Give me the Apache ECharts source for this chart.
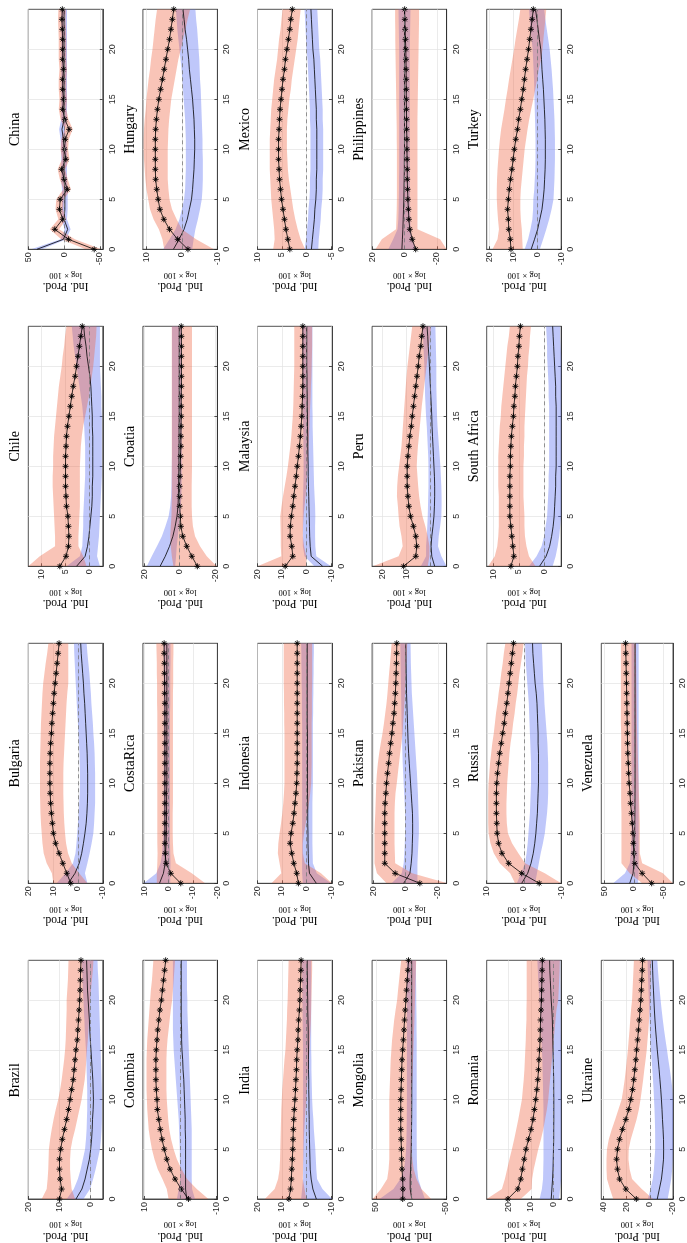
<!DOCTYPE html>
<html><head><meta charset="utf-8">
<script src="https://cdn.jsdelivr.net/npm/echarts@6/dist/echarts.min.js"></script>
<style>html,body{margin:0;padding:0;background:#fff}#c{width:687px;height:1243px}</style>
</head><body><div id="c"></div>
<script>
const countries = ['Brazil','Bulgaria','Chile','China','Colombia','CostaRica','Croatia','Hungary','India','Indonesia','Malaysia','Mexico','Mongolia','Pakistan','Peru','Philippines','Romania','Russia','South Africa','Turkey','Ukraine','Venezuela'];
const horizons = [0,1,2,3,4,5,6,7,8,9,10,11,12,13,14,15,16,17,18,19,20,21,22,23,24];
const horizonTicks = [0,5,10,15,20];
const valueMin = [-3.9,-10,-2.8,-54,-10.2,-20,-21.3,-10,-10.4,-10.4,-10.4,-5.2,-51,-25.5,-6.9,-26,-3.3,-10,-3.4,-10,-20,-66];
const valueMax = [20,20,12.8,50,10.4,10.5,20.7,11,20,20,20,10,55.6,21,24.3,20,29.5,10,11.4,21,42,55];
const valueTicks = [[0,10,20],[-10,0,10,20],[0,5,10],[-50,0,50],[-10,0,10],[-20,-10,0,10],[-20,0,20],[-10,0,10],[-10,0,10,20],[-10,0,10,20],[-10,0,10,20],[-5,0,5,10],[-50,0,50],[-20,0,20],[0,10,20],[-20,0,20],[0,10,20],[-10,0,10],[0,5,10],[-10,0,10,20],[-20,0,20,40],[-50,0,50]];

const redMedian = [
[10,9.3,9.8,10,10,9.6,9.1,8.4,7.7,7.1,6.6,6.1,5.6,5.3,5.0,4.7,4.3,4.1,3.9,3.7,3.5,3.4,3.3,3.2,3.1],
[2.9,4.5,6.1,7.6,9.0,9.9,10.3,10.7,11.0,11.2,11.3,11.3,11.3,11.2,11.0,10.7,10.5,10.2,9.9,9.6,9.2,8.8,8.4,8.0,7.6],
[6.2,4.9,4.4,4.3,4.4,4.5,4.8,4.9,5.0,5.0,5.0,5.0,4.9,4.8,4.6,4.3,4.0,3.7,3.4,3.0,2.7,2.4,2.1,1.8,1.5],
[-42,-6,13,2,6.5,5.5,-4.5,0,3.5,-2.5,-0.5,-1.5,-7,-1,2,1,2,2,1,2,2,2,2.5,3,2.5],
[-2.2,-0.2,1.5,2.9,3.8,4.5,5.1,5.6,6.0,6.4,6.5,6.7,6.8,6.8,6.8,6.7,6.5,6.3,6.0,5.7,5.3,5.0,4.7,4.4,4.1],
[-5,-0.9,1,1.4,1.5,1.5,1.5,1.5,1.5,1.5,1.5,1.5,1.5,1.5,1.5,1.5,1.5,1.5,1.5,1.6,1.6,1.7,1.7,1.8,1.8],
[-10,-6.9,-4,-1.8,-0.7,-0.4,0,0,0,-0.2,-0.4,-0.5,-0.7,-0.7,-0.8,-0.9,-0.9,-0.9,-1.0,-1.0,-1.0,-1.0,-1.0,-1.0,-0.9],
[-1.7,1.2,3.5,5.1,6.2,6.7,7.1,7.4,7.5,7.5,7.5,7.5,7.4,7.2,6.9,6.5,6.0,5.5,5.0,4.5,4.0,3.5,3.1,2.7,2.3],
[7.2,6.5,6.2,6.0,5.8,5.6,5.5,5.4,5.2,5.0,4.7,4.5,4.3,4.1,4.0,3.8,3.5,3.4,3.2,2.9,2.7,2.6,2.4,2.3,2.2],
[3.3,4.0,5.2,6.0,6.7,6.3,5.6,5.1,4.7,4.3,4.0,3.9,3.8,3.8,3.8,3.8,3.8,3.8,3.8,3.8,3.8,3.8,3.8,3.8,3.8],
[8.7,5.6,6.0,6.7,6.6,6.2,5.6,5.2,4.7,4.2,3.8,3.3,2.9,2.5,2.2,1.9,1.8,1.6,1.5,1.5,1.5,1.5,1.5,1.5,1.5],
[3.4,3.8,4.2,4.5,4.8,5.1,5.3,5.5,5.6,5.7,5.7,5.7,5.6,5.5,5.4,5.2,5.0,4.8,4.5,4.3,4.0,3.7,3.4,3.2,2.9],
[11.8,11.5,11.8,12.8,13.2,13.7,14.1,14.6,14.6,14.6,14.6,14.1,13.7,13.2,12.8,11.8,10.9,10.0,9.2,8.2,7.2,6.3,5.4,4.4,3.5],
[-8.8,6.6,13.1,13.1,13.1,13.1,13.1,13.1,12.9,12.4,12.0,11.4,10.7,10.1,9.4,8.6,8.0,7.3,6.9,6.5,6.2,6.0,5.8,5.7,5.6],
[11.1,6.0,5.6,6.0,7.0,8.2,8.9,9.3,9.6,9.6,9.6,9.3,8.9,8.5,7.9,7.5,7.0,6.5,6.0,5.5,5.0,4.6,3.9,3.5,3.0],
[-6.9,-4.8,-3.3,-2.7,-2.4,-2.1,-1.9,-1.7,-1.7,-1.6,-1.5,-1.5,-1.3,-1.3,-1.2,-1.1,-1.1,-1.0,-1.0,-0.9,-0.8,-0.6,-0.4,-0.2,-0.1],
[20.2,15.8,14.5,13.8,13.0,12.2,11.1,10.0,9.1,8.5,7.9,7.4,7.0,6.7,6.5,6.2,6.0,5.9,5.8,5.6,5.4,5.3,5.2,5.1,5.0],
[-4.1,0.6,4.1,5.9,6.8,7.2,7.3,7.4,7.4,7.4,7.3,7.1,6.8,6.5,6.1,5.7,5.3,5.0,4.6,4.3,4.0,3.7,3.4,3.1,2.8],
[6.6,6.0,6.2,6.4,6.6,6.8,6.8,6.8,6.8,6.8,6.7,6.7,6.6,6.5,6.3,6.1,6.0,5.8,5.7,5.5,5.3,5.2,5.0,4.9,4.7],
[10.9,11.2,11.8,12.0,12.3,12.0,11.6,11.1,10.5,10.0,9.5,8.9,8.2,7.7,7.0,6.4,5.8,5.3,4.8,4.2,3.6,3.1,2.6,2.1,1.6],
[11.7,20.8,26.2,28.0,28.8,28.0,26.2,23.7,20.8,18.3,16.5,15.0,13.9,13.0,12.1,11.4,10.6,9.9,9.2,8.5,7.8,7.4,7.0,6.6,6.3],
[-30,-14,-1.4,0,1.0,1.5,2.8,4,5.6,6.5,8,8.8,9.5,10.2,10.7,11,11.3,11.6,11.9,12.2,12.5,12.9,13.2,13.6,14]
];
const redUpper = [
[15.7,14.1,13.8,13.6,13.5,13.4,13.0,12.5,11.9,11.2,10.4,9.8,9.3,8.9,8.5,8.2,8.0,7.9,7.8,7.7,7.7,7.5,7.3,7.2,7.1],
[9.9,10.5,12.6,13.8,14.3,14.6,14.9,15.1,15.2,15.3,15.3,15.3,15.3,15.2,15.1,15.0,14.9,14.7,14.5,14.3,14.0,13.5,13.0,12.4,11.9],
[12.8,10.4,7.2,7.2,7.3,7.4,7.5,7.6,7.7,7.7,7.6,7.6,7.5,7.4,7.2,7.0,6.8,6.6,6.4,6.1,5.8,5.6,5.3,5.1,4.8],
[-30,4,20,8,12,11,1,6,9,3,5,4,-1,5,7.5,6.5,7.5,7.5,6.5,7.5,7.5,7.5,8,8.5,8],
[3.3,3.8,5.0,6.3,7.2,7.9,8.4,8.8,9.0,9.2,9.3,9.4,9.4,9.4,9.4,9.3,9.2,9.0,8.8,8.6,8.4,8.2,7.9,7.7,7.5],
[4.8,4.8,4.6,4.5,4.6,4.6,4.6,4.6,4.6,4.6,4.6,4.6,4.6,4.6,4.6,4.6,4.6,4.6,4.7,4.7,4.7,4.8,4.8,4.9,5.0],
[3.5,4.4,5.0,5.3,5.0,4.6,4.5,4.4,4.4,4.4,4.4,4.4,4.4,4.4,4.4,4.4,4.4,4.4,4.4,4.4,4.4,4.4,4.4,4.4,4.4],
[5,5.5,6.5,8,9,9.5,10,10.3,10.5,10.7,10.8,10.8,10.7,10.5,10.2,10,9.7,9.4,9,8.7,8.3,8,7.7,7.4,7],
[17,13,11.6,11,10.8,10.7,10.6,10.5,10.4,10.3,10.1,9.9,9.6,9.3,9.0,8.6,8.4,8.2,8.0,7.9,7.7,7.6,7.5,7.4,7.3],
[14.3,10.3,11.0,11.7,11.5,11.0,10.4,9.9,9.5,9.2,9.0,9.0,9.0,9.0,9.0,9.0,9.1,9.1,9.2,9.2,9.3,9.3,9.3,9.3,9.3],
[20,10.3,10.5,10.5,10.6,10.7,10.2,9.6,8.9,8.2,7.6,7.1,6.6,6.2,5.9,5.6,5.4,5.3,5.2,5.1,5.0,5.0,5.0,5.0,5.0],
[6.8,6.5,6.6,6.8,7.0,7.2,7.3,7.4,7.5,7.5,7.5,7.5,7.4,7.3,7.2,7.0,6.8,6.6,6.3,6.0,5.8,5.6,5.3,5.1,4.9],
[54.7,43,34,32,31,31,31,31,31,31,31,30.5,30,29.5,29,28,27,25.5,24,22,19.8,18.5,17,15.5,14],
[12,18,19.5,19.5,19.5,19.5,19.3,19.0,18.8,18.6,18.4,18.0,17.4,16.6,15.6,14.5,13.6,12.8,12.0,11.4,10.9,10.4,9.8,9.3,8.8],
[24,13.2,11.5,12,12.8,13.2,13.5,13.9,13.8,13.5,13.0,12.5,12.0,11.7,11.4,11.1,10.8,10.5,10.2,9.9,9.5,9.0,8.5,8.0,7.5],
[17.9,14,5.2,5.0,4.8,4.7,4.7,4.7,4.7,4.7,4.7,4.8,4.8,4.9,5.0,5.1,5.2,5.3,5.4,5.5,5.6,5.7,5.7,5.8,5.8],
[29.5,22.8,21.5,20.5,19.5,18.4,17.4,16.5,15.6,14.8,14.0,13.6,13.2,12.9,12.7,12.5,12.3,12.2,12.0,12.0,11.9,11.9,11.9,11.9,11.9],
[2.4,3.7,6.5,8.1,9.0,9.5,9.6,9.6,9.6,9.6,9.5,9.3,9.1,8.8,8.5,8.1,7.8,7.5,7.1,6.8,6.4,6.1,5.7,5.4,5.0],
[11.1,9.8,9.3,9.1,9.0,9.0,9.0,9.0,9.1,9.1,9.1,9.1,9.0,8.9,8.8,8.6,8.5,8.3,8.1,7.9,7.7,7.5,7.3,7.0,6.8],
[18.6,16.5,15.9,16.3,16.6,16.8,16.8,16.7,16.5,16.2,15.9,15.5,15.0,14.3,13.6,13.0,12.3,11.7,11.0,10.3,9.6,9.0,8.3,7.6,7.0],
[31.7,34.5,37.1,37.5,37.5,37.1,35.5,33.0,30.0,27.2,24.4,23.0,21.8,20.8,19.9,19.0,18.3,17.6,17.0,16.3,15.4,15.0,14.6,14.2,13.8],
[-14,7,21,21,21,21,21,21,21.5,21.5,21.5,21.5,21.5,21.5,21.5,21.5,22,22,22,22,22,22,22,22,22]
];
const redLower = [
[5.0,6.1,6.4,6.6,6.6,6.4,5.8,5.0,4.3,3.6,2.9,2.4,1.9,1.6,1.4,1.2,0.9,0.7,0.5,0.3,0.2,-0.1,-0.4,-0.7,-0.9],
[-3.8,-0.5,2.5,4.0,4.8,5.2,5.5,5.7,5.8,5.9,5.9,5.9,5.8,5.6,5.4,5.2,5.0,4.8,4.6,4.3,3.9,3.9,3.9,3.9,3.9],
[0.6,1.3,2.3,2.3,2.2,2.1,2.0,2.0,2.0,2.0,2.0,1.9,1.8,1.6,1.3,0.9,0.5,0.1,-0.2,-0.5,-0.8,-1.0,-1.2,-1.4,-1.5],
[-52,-15,7,-3,1.5,0.5,-9.5,-5,-1.5,-7.5,-5.5,-6.5,-12,-6,-3,-4,-3,-3,-4,-3,-3,-3,-2.5,-2,-2.5],
[-7.7,-4.5,-1.8,-0.3,1.0,1.9,2.6,3.1,3.4,3.6,3.8,3.9,3.9,3.9,3.9,3.8,3.6,3.3,3.0,2.7,2.3,2.1,1.9,1.7,1.5],
[-15,-9.5,-3,-2,-1.8,-1.7,-1.7,-1.7,-1.8,-1.8,-1.8,-1.8,-1.8,-1.8,-1.8,-1.8,-1.8,-1.8,-1.8,-1.8,-1.9,-1.9,-1.9,-2.0,-2.0],
[-20.9,-15.3,-11.5,-8.7,-7.5,-7,-6.8,-6.8,-6.8,-6.9,-7,-7,-7,-7,-7,-7,-7,-7,-7,-7,-7,-7,-7,-7,-7],
[-9,-4,0,1.5,2.8,3.5,3.8,4,4,4,4,3.9,3.8,3.6,3.3,3,2.5,2,1.5,1,0.3,-0.3,-1,-1.6,-2.3],
[0.1,0.8,1.5,1.4,1.3,1.2,1.1,0.9,0.7,0.4,0.1,-0.2,-0.4,-0.7,-0.9,-1.2,-1.4,-1.6,-1.8,-1.9,-2.0,-2.1,-2.2,-2.3,-2.3],
[-10.4,-5.9,0.7,1.5,1.5,1.0,0.3,-0.4,-1.0,-1.5,-1.9,-2.0,-2.1,-2.1,-2.1,-2.1,-2.1,-2.2,-2.2,-2.2,-2.3,-2.3,-2.3,-2.3,-2.3],
[0.1,0.1,1.0,1.5,1.4,1.2,0.8,0.4,0.0,-0.3,-0.5,-0.7,-0.9,-1.0,-1.2,-1.3,-1.5,-1.7,-1.8,-2.0,-2.1,-2.2,-2.3,-2.3,-2.3],
[0.3,1.2,1.8,2.3,2.7,3.0,3.3,3.6,3.8,3.9,4.0,4.0,4.0,3.9,3.7,3.5,3.2,3.0,2.7,2.4,2.1,1.8,1.6,1.4,1.2],
[-29,-15,-8,-4,-2,-1.2,-1.0,-1.0,-1.0,-1.0,-1.0,-1.5,-2,-2.5,-3,-3.5,-4,-4.5,-5,-5.4,-5.8,-6.2,-6.6,-7,-7.5],
[-26,-4,6.6,6.8,7.0,7.0,7.0,7.0,6.8,6.4,5.6,4.9,4.2,3.5,2.7,2.0,1.6,1.2,0.8,0.5,0.2,-0.1,-0.4,-0.7,-0.9],
[1,0.3,0.3,1.0,2.0,3.2,4.0,4.6,5.0,5.3,5.6,5.4,5.1,4.7,4.3,3.9,3.5,3.0,2.5,2.0,1.5,1.0,0.5,0.0,-0.4],
[-26,-22,-8,-8,-8,-8,-8,-8,-8,-8,-8,-8,-8,-8,-8.1,-8.2,-8.3,-8.4,-8.5,-8.6,-8.7,-8.8,-8.9,-9,-9],
[14.5,9.7,9.5,8.8,7.8,6.8,5.6,4.6,3.8,3.0,2.4,2.0,1.6,1.2,0.8,0.4,0.0,-0.4,-0.8,-1.2,-2.0,-2.2,-2.4,-2.6,-2.7],
[-10,-5.6,-0.3,1.5,3.2,4.3,4.6,4.7,4.7,4.6,4.5,4.3,4.1,3.9,3.6,3.2,2.9,2.5,2.2,1.8,1.5,1.2,0.8,0.4,0.1],
[1.7,3.0,3.5,3.8,3.9,3.9,4.0,4.1,4.1,4.1,4.1,4.0,4.0,3.9,3.9,3.8,3.7,3.6,3.5,3.4,3.2,3.1,2.9,2.8,2.6],
[6.0,6.2,6.4,6.8,7.0,7.0,6.8,6.4,6.0,5.6,5.2,4.6,4.0,3.3,2.5,1.6,0.8,0.0,-0.7,-1.6,-2.2,-2.6,-3.0,-3.4,-3.8],
[-2.7,7.0,15.4,17.5,18.5,18.3,16.5,14.0,11.5,9.5,8.1,6.9,5.8,4.8,3.7,2.7,2.0,1.3,0.7,0.2,-0.2,-0.4,-0.6,-0.8,-1.0],
[-66,-49,-14,-10,-10,-10,-10,-9.5,-9,-8.5,-8,-7.5,-7,-6.5,-6,-5.5,-5,-4.8,-4.6,-4.4,-4.2,-4,-3.8,-3.6,-3.5]
];
const blueMedian = [
[4.7,2.8,1.8,1.1,0.4,0,-0.3,-0.5,-0.6,-0.8,-0.9,-0.8,-0.7,-0.5,-0.3,-0.1,0.1,0.3,0.4,0.6,0.8,1.0,1.1,1.2,1.3],
[3.9,1.2,-0.5,-1.5,-2.2,-2.8,-3.3,-3.6,-3.8,-3.9,-3.9,-3.9,-3.8,-3.7,-3.5,-3.3,-3.1,-2.9,-2.7,-2.4,-2.2,-1.9,-1.6,-1.3,-1.1],
[2.7,0.9,0.4,0.1,-0.1,-0.3,-0.5,-0.6,-0.6,-0.7,-0.7,-0.7,-0.7,-0.7,-0.6,-0.6,-0.5,-0.4,-0.3,-0.1,0.2,0.5,0.7,1.0,1.2],
[38,1,-5,0,-1,-1,-1,0,0,0,0,1,3,0,0,0,0,0,0,0,0,0,0,0,0],
[-1.7,-1.4,-1.4,-1.4,-1.4,-1.4,-1.4,-1.3,-1.3,-1.2,-1.1,-1.0,-0.9,-0.7,-0.6,-0.4,-0.3,-0.3,-0.2,-0.2,-0.2,-0.2,-0.2,-0.2,-0.2],
[3.7,2.1,1.4,1.2,1.0,0.9,0.9,0.8,0.8,0.8,0.7,0.7,0.7,0.7,0.7,0.7,0.7,0.7,0.7,0.7,0.7,0.7,0.7,0.7,0.7],
[11,8.1,5.7,3.8,2.5,1.5,0.9,0.7,0.6,0.5,0.4,0.4,0.3,0.3,0.3,0.2,0.2,0.2,0.2,0.2,0.2,0.2,0.2,0.2,0.2],
[2.4,0.8,-0.6,-1.5,-2.1,-2.7,-3.0,-3.2,-3.4,-3.5,-3.6,-3.6,-3.5,-3.4,-3.2,-3.0,-2.7,-2.4,-2.1,-1.9,-1.6,-1.3,-0.9,-0.6,-0.3],
[-4.0,-2.6,-1.9,-1.5,-1.4,-1.3,-1.2,-1.1,-1.1,-1.0,-1.0,-0.9,-0.9,-0.8,-0.8,-0.8,-0.7,-0.7,-0.6,-0.5,-0.5,-0.4,-0.4,-0.3,-0.3],
[-4.0,-1.2,-0.8,-0.7,-0.6,-0.6,-0.5,-0.5,-0.5,-0.4,-0.4,-0.4,-0.4,-0.4,-0.4,-0.4,-0.3,-0.3,-0.3,-0.3,-0.3,-0.3,-0.3,-0.3,-0.3],
[-6.6,-1.9,-1.5,-1.3,-1.2,-1.1,-1.0,-0.9,-0.8,-0.7,-0.7,-0.6,-0.5,-0.5,-0.4,-0.4,-0.3,-0.3,-0.2,-0.2,-0.1,-0.1,-0.1,-0.1,-0.1],
[-1.0,-1.2,-1.4,-1.6,-1.7,-1.9,-2.0,-2.0,-2.1,-2.1,-2.1,-2.1,-2.1,-2.0,-2.0,-1.9,-1.8,-1.7,-1.6,-1.5,-1.3,-1.2,-1.1,-1.0,-0.9],
[-1.2,1.1,1.1,0.5,0,-0.4,-0.6,-0.8,-1.0,-1.1,-1.2,-1.2,-1.2,-1.2,-1.2,-1.2,-1.2,-1.1,-1.1,-1.0,-1.0,-1.0,-1.0,-1.0,-1.0],
[1.3,-2.6,-3.4,-3.9,-4.1,-4.3,-4.3,-4.2,-3.8,-3.4,-3.0,-2.6,-2.2,-1.8,-1.5,-1.3,-1.1,-0.9,-0.7,-0.5,-0.4,-0.3,-0.2,-0.1,0.0],
[-1.9,-0.7,-0.4,-0.7,-1.2,-1.6,-1.8,-1.9,-1.9,-1.8,-1.6,-1.4,-1.2,-1.0,-0.8,-0.7,-0.5,-0.3,-0.1,0.1,0.3,0.5,0.8,1.0,1.3],
[1.6,1.3,1.0,0.8,0.6,0.4,0.3,0.2,0.1,0.1,0,0,0,0,0,0,0,0,0,0,0,0,0,0,0],
[1.1,0.8,0.5,0.3,0.2,0.1,0.0,0.0,-0.05,-0.05,-0.05,0,0,0.1,0.2,0.3,0.4,0.5,0.6,0.8,1.1,1.3,1.5,1.7,1.8],
[0.6,-1.0,-1.9,-2.5,-2.9,-3.2,-3.4,-3.6,-3.7,-3.8,-3.9,-3.9,-3.9,-3.9,-3.8,-3.8,-3.7,-3.6,-3.5,-3.3,-3.0,-2.8,-2.6,-2.4,-2.3],
[0.9,-0.4,-1.1,-1.5,-1.8,-2.0,-2.1,-2.2,-2.3,-2.3,-2.4,-2.4,-2.4,-2.4,-2.4,-2.4,-2.4,-2.3,-2.3,-2.2,-2.1,-2.0,-1.9,-1.8,-1.7],
[2.5,1.1,-0.2,-1.1,-2.0,-2.5,-2.9,-3.1,-3.3,-3.4,-3.4,-3.4,-3.3,-3.2,-3.0,-2.8,-2.6,-2.3,-2.0,-1.8,-1.5,-0.9,-0.4,0.1,0.7],
[-6.4,-8.2,-10.0,-11.0,-11.8,-11.9,-11.8,-11.4,-10.9,-10.5,-10.0,-9.4,-8.7,-8.0,-7.2,-6.4,-5.7,-5.0,-4.4,-3.9,-3.5,-3.1,-2.7,-2.4,-2.1],
[7,1.4,0,-0.5,-1,-1.3,-1.5,-1.7,-1.8,-1.9,-2,-2,-2,-2,-2,-2,-2,-2,-2,-2,-2,-2,-2,-2,-2]
];
const blueUpper = [
[7.7,5.4,4.1,3.2,2.5,1.8,1.5,1.3,1.2,1.1,1.1,1.1,1.2,1.3,1.4,1.5,1.7,1.9,2.0,2.2,2.3,2.5,2.6,2.7,2.8],
[8.6,5.0,2.0,1.0,0.6,0.3,0.0,-0.3,-0.5,-0.7,-0.8,-0.8,-0.7,-0.6,-0.4,-0.2,0.0,0.3,0.5,0.7,0.9,1.1,1.3,1.5,1.6],
[4.8,2.0,1.5,1.4,1.3,1.3,1.2,1.1,1.0,0.9,0.9,0.9,0.9,1.0,1.1,1.3,1.5,1.8,2.1,2.4,2.7,3.0,3.3,3.5,3.7],
[46,5,-1,4,3,3,3,4,4,4,4,5,7,4,4,4,4,4,4,4,4,4,4,4,4],
[1.0,0.5,0.1,0.1,0.2,0.2,0.3,0.4,0.5,0.7,0.9,1.1,1.3,1.5,1.7,1.9,2.0,2.1,2.1,2.1,2.1,2.1,2.1,2.1,2.1],
[10.2,5.0,3.3,2.6,2.3,2.1,2.0,2.0,2.0,2.0,2.0,2.0,2.0,2.0,2.0,2.0,2.0,2.0,2.0,2.0,2.0,2.0,2.0,2.0,2.0],
[18.5,15.7,12.8,10,8,6.2,5.3,4.8,4.6,4.5,4.4,4.3,4.3,4.3,4.3,4.3,4.3,4.3,4.3,4.3,4.3,4.3,4.3,4.3,4.3],
[5.3,3.5,1.8,0.7,0,-0.6,-0.9,-1.0,-1.1,-1.1,-1.1,-1.1,-1.0,-0.9,-0.7,-0.5,-0.3,-0.1,0.1,0.4,0.7,1.0,1.3,1.5,1.7],
[2.2,1.8,1.4,1.4,1.4,1.4,1.4,1.4,1.4,1.4,1.4,1.4,1.4,1.4,1.4,1.4,1.5,1.5,1.6,1.6,1.7,1.7,1.8,1.8,1.9],
[1.5,1.8,1.8,1.8,1.8,1.8,1.8,1.8,1.8,1.8,1.8,1.8,1.8,1.8,1.8,1.8,1.8,1.9,1.9,1.9,2.0,2.0,2.1,2.1,2.2],
[-3.2,0.8,1.5,1.5,1.5,1.5,1.5,1.4,1.3,1.2,1.2,1.2,1.3,1.3,1.4,1.5,1.5,1.6,1.6,1.7,1.7,1.8,1.8,1.8,1.8],
[0.4,0.1,-0.1,-0.3,-0.4,-0.6,-0.7,-0.7,-0.8,-0.8,-0.8,-0.8,-0.8,-0.7,-0.7,-0.6,-0.5,-0.4,-0.3,-0.2,0.0,0.1,0.2,0.3,0.4],
[45,25,15.2,10,8,7,6.5,6.2,6,5.9,5.8,5.8,5.8,5.8,5.8,5.8,5.8,5.8,5.8,5.8,5.8,5.8,5.8,5.8,5.8],
[8.8,2.5,1.3,0.9,0.6,0.4,0.4,0.4,0.7,1.0,1.3,1.6,1.9,2.1,2.3,2.4,2.6,2.7,2.8,2.9,3.0,3.1,3.2,3.3,3.4],
[3.9,1.7,1.7,1.4,1.2,1.0,0.9,0.8,0.7,0.7,0.7,0.8,1.0,1.2,1.4,1.7,1.9,2.1,2.2,2.3,2.4,2.6,2.8,3.0,3.2],
[10,7,4.3,3.8,3.6,3.5,3.4,3.4,3.3,3.3,3.3,3.3,3.3,3.3,3.3,3.3,3.3,3.3,3.3,3.3,3.3,3.4,3.5,3.6,3.7],
[6.2,5.2,4.7,4.6,4.5,4.5,4.5,4.5,4.5,4.5,4.6,4.7,4.8,4.9,5.0,5.2,5.4,5.6,5.8,6.0,6.3,6.5,6.8,7.0,7.2],
[1.9,0.8,-0.3,-0.7,-1.0,-1.2,-1.4,-1.6,-1.7,-1.8,-1.9,-1.9,-1.9,-1.8,-1.7,-1.6,-1.5,-1.4,-1.3,-1.1,-0.9,-0.7,-0.5,-0.4,-0.3],
[3.0,1.5,0.5,0.0,-0.3,-0.6,-0.7,-0.8,-0.9,-0.9,-1.0,-1.0,-1.0,-1.0,-1.0,-1.0,-1.0,-0.9,-0.9,-0.8,-0.7,-0.6,-0.6,-0.5,-0.4],
[5.2,3.8,2.8,2.0,1.7,1.6,1.2,1.0,0.8,0.7,0.7,0.7,0.8,0.9,1.0,1.1,1.2,1.3,1.5,1.7,1.9,2.3,2.8,3.1,3.4],
[1.7,-0.5,-2.5,-3.5,-4.0,-4.6,-4.6,-4.5,-4.3,-4.0,-3.6,-3.2,-2.7,-2.1,-1.5,-0.9,-0.3,0.1,0.4,0.7,0.9,1.2,1.5,1.8,2.0],
[35,15,7,5.5,4.5,4,4,4,4,4,4,4,4,4,4,4,4,4,4,4,4,4,4,4,4]
];
const blueLower = [
[2.3,0.2,-0.8,-1.6,-2.3,-3.0,-3.3,-3.5,-3.6,-3.6,-3.6,-3.6,-3.5,-3.4,-3.3,-3.2,-3.1,-3.0,-2.9,-2.8,-2.7,-2.6,-2.5,-2.3,-2.2],
[-3.8,-2.8,-3.8,-4.7,-5.5,-6.2,-6.5,-6.7,-6.9,-6.9,-6.9,-6.9,-6.8,-6.7,-6.5,-6.2,-6.0,-5.7,-5.4,-5.2,-4.9,-4.6,-4.2,-3.8,-3.5],
[-2.2,-1.6,-1.8,-2.0,-2.1,-2.2,-2.3,-2.4,-2.5,-2.6,-2.6,-2.6,-2.6,-2.6,-2.6,-2.6,-2.5,-2.5,-2.4,-2.3,-2.2,-2.2,-2.2,-2.2,-2.2],
[31,-3,-9,-4,-5,-5,-5,-4,-4,-4,-4,-3,-1,-4,-4,-4,-4,-4,-4,-4,-4,-4,-4,-4,-4],
[-4.0,-3.2,-3.1,-3.1,-3.1,-3.1,-3.1,-3.1,-3.0,-2.9,-2.8,-2.7,-2.6,-2.5,-2.4,-2.3,-2.2,-2.1,-2.0,-1.9,-1.9,-1.8,-1.8,-1.8,-1.8],
[-0.7,-0.7,-0.8,-0.7,-0.6,-0.6,-0.6,-0.6,-0.6,-0.6,-0.6,-0.6,-0.6,-0.6,-0.6,-0.6,-0.6,-0.6,-0.7,-0.7,-0.7,-0.7,-0.8,-0.8,-0.8],
[2.5,2.0,1.6,1.0,0.4,-0.3,-0.7,-1.0,-1.1,-1.2,-1.2,-1.2,-1.2,-1.2,-1.2,-1.2,-1.2,-1.2,-1.2,-1.2,-1.2,-1.2,-1.2,-1.2,-1.2],
[-2.9,-3.3,-3.8,-4.5,-5.1,-5.6,-5.8,-5.9,-5.9,-5.9,-5.8,-5.8,-5.7,-5.6,-5.5,-5.4,-5.3,-5.1,-5.0,-4.9,-4.7,-4.5,-4.3,-4.0,-3.8],
[-10.4,-6.5,-4.3,-4.0,-3.8,-3.6,-3.3,-3.0,-2.8,-2.5,-2.3,-2.2,-2.1,-2.0,-2.0,-1.9,-1.9,-1.9,-1.9,-1.9,-1.9,-1.9,-1.9,-1.9,-1.9],
[-10,-4.2,-2.6,-2.5,-2.4,-2.4,-2.4,-2.4,-2.4,-2.5,-2.6,-2.6,-2.6,-2.6,-2.6,-2.6,-2.6,-2.7,-2.7,-2.8,-2.8,-2.9,-2.9,-3.0,-3.0],
[-10,-4.0,-3.6,-3.5,-3.5,-3.6,-3.5,-3.3,-3.1,-3.0,-2.9,-2.8,-2.7,-2.6,-2.5,-2.5,-2.4,-2.4,-2.4,-2.4,-2.4,-2.4,-2.4,-2.4,-2.4],
[-2.4,-2.5,-2.7,-2.9,-3.0,-3.2,-3.3,-3.3,-3.4,-3.4,-3.4,-3.4,-3.4,-3.3,-3.3,-3.2,-3.1,-3.0,-2.9,-2.8,-2.6,-2.5,-2.4,-2.3,-2.2],
[-20,-15,-10.5,-9,-8.5,-8.3,-8.2,-8.2,-8.2,-8.2,-8.2,-8.2,-8.2,-8.2,-8.2,-8.2,-8.2,-8.0,-8.0,-7.8,-7.6,-7.5,-7.3,-7.1,-7.0],
[-7.3,-7.3,-7.3,-7.6,-7.9,-8.2,-8.2,-8.0,-7.8,-7.6,-7.3,-7.0,-6.6,-6.2,-5.8,-5.4,-5.0,-4.6,-4.2,-3.8,-3.6,-3.4,-3.2,-3.1,-3.0],
[-6.9,-4.7,-3.3,-3.6,-4.2,-4.7,-4.8,-4.8,-4.7,-4.5,-4.3,-4.0,-3.7,-3.4,-3.1,-2.9,-2.8,-2.7,-2.6,-2.6,-2.6,-2.5,-2.4,-2.3,-2.2],
[-7,-5,-3.7,-3.6,-3.5,-3.4,-3.4,-3.3,-3.3,-3.3,-3.3,-3.3,-3.3,-3.3,-3.3,-3.3,-3.3,-3.3,-3.3,-3.3,-3.3,-3.4,-3.5,-3.6,-3.7],
[-2.4,-2.8,-3.3,-3.3,-3.3,-3.3,-3.3,-3.3,-3.3,-3.3,-3.3,-3.3,-3.3,-3.3,-3.3,-3.2,-3.2,-3.1,-3.1,-3.0,-3.0,-3.0,-2.9,-2.9,-2.9],
[-3.0,-3.5,-4.0,-4.5,-5.1,-5.6,-5.9,-6.2,-6.4,-6.5,-6.5,-6.5,-6.5,-6.4,-6.3,-6.1,-5.9,-5.7,-5.5,-5.4,-5.2,-5.1,-5.0,-4.9,-4.8],
[-1.7,-2.3,-2.7,-3.0,-3.2,-3.4,-3.4,-3.4,-3.4,-3.4,-3.4,-3.4,-3.4,-3.4,-3.4,-3.4,-3.4,-3.4,-3.4,-3.4,-3.4,-3.4,-3.3,-3.2,-3.2],
[-1.1,-2.5,-3.8,-5.0,-6.0,-6.8,-7.0,-7.2,-7.3,-7.4,-7.4,-7.4,-7.3,-7.2,-7.0,-6.8,-6.6,-6.3,-6.0,-5.6,-5.2,-4.6,-4.0,-3.4,-2.9],
[-15.4,-17,-18.5,-19.3,-19.8,-20,-20,-20,-20,-20,-20,-19.5,-18.5,-17.3,-16,-14.8,-13.5,-12.3,-11.2,-10.2,-9.3,-8.5,-7.7,-7.0,-6.4],
[-7,-8,-8,-8,-8,-8,-8,-8,-8,-8,-8,-8,-8,-8,-8,-8,-8,-8,-8,-8,-8,-8,-8,-8,-8]
];

const PW = 74.5, PH = 240, X0 = 28.3, DX = 114.6, Y0 = 9.3, DY = 317;
const AX = '#262626';
const RED_FILL = 'rgba(240,100,65,0.38)';
const BLUE_FILL = 'rgba(95,115,242,0.40)';
const STAR = 'path://M0,-10L0,10M-10,0L10,0M-7,-7L7,7M-7,7L7,-7';

const grids = [], xAxes = [], yAxes = [], series = [], graphics = [];

function bandSeries(k, lo, hi, fill) {
  return {
    type: 'custom', xAxisIndex: k, yAxisIndex: k, clip: true, silent: true, z: 1,
    data: horizons.map(h => [lo[h], hi[h], h]),
    encode: { x: [0, 1], y: 2 },
    renderItem: function (params, api) {
      if (params.dataIndex !== 0) return null;
      const pts = [];
      for (let i = 0; i < horizons.length; i++) pts.push(api.coord([lo[i], horizons[i]]));
      for (let i = horizons.length - 1; i >= 0; i--) pts.push(api.coord([hi[i], horizons[i]]));
      return { type: 'polygon', shape: { points: pts }, style: { fill: fill, stroke: null } };
    }
  };
}

countries.forEach((name, k) => {
  const c = k % 4, r = Math.floor(k / 4);
  const left = X0 + r * DX, top = Y0 + (3 - c) * DY;
  grids.push({ left: left, top: top, width: PW, height: PH, show: true, borderColor: AX, borderWidth: 0.8, backgroundColor: '#fff' });
  xAxes.push({
    type: 'value', gridIndex: k, inverse: true, position: 'bottom',
    min: valueMin[k], max: valueMax[k],
    axisLine: { show: true, onZero: false, lineStyle: { color: AX, width: 0.8 } },
    axisTick: { show: true, inside: true, length: 3, customValues: valueTicks[k], lineStyle: { color: AX, width: 0.8 } },
    axisLabel: { customValues: valueTicks[k], rotate: 90, fontSize: 9, color: AX, margin: 3, fontFamily: 'Liberation Sans' },
    splitLine: { show: true, lineStyle: { color: '#e2e2e2', width: 0.7 } },
    name: '{a|Ind. Prod.}\n{b|log × 100}', nameLocation: 'middle', nameGap: 20, nameRotate: 180,
    nameTextStyle: { rich: {
      a: { fontFamily: 'Liberation Serif', fontSize: 11.5, color: '#000', lineHeight: 12 },
      b: { fontFamily: 'Liberation Serif', fontSize: 8.5, color: '#000', lineHeight: 11 } } }
  });
  yAxes.push({
    type: 'value', gridIndex: k, position: 'right', min: 0, max: 24,
    axisLine: { show: true, onZero: false, lineStyle: { color: AX, width: 0.8 } },
    axisTick: { show: true, inside: true, length: 3, customValues: horizonTicks, lineStyle: { color: AX, width: 0.8 } },
    axisLabel: { customValues: horizonTicks, rotate: 90, fontSize: 9, color: AX, margin: 5, fontFamily: 'Liberation Sans' },
    splitLine: { show: true, lineStyle: { color: '#e2e2e2', width: 0.7 } }
  });
  series.push(bandSeries(k, blueLower[k], blueUpper[k], BLUE_FILL));
  series.push(bandSeries(k, redLower[k], redUpper[k], RED_FILL));
  series.push({
    type: 'line', xAxisIndex: k, yAxisIndex: k, z: 3, silent: true,
    data: horizons.map(h => [blueMedian[k][h], h]),
    symbol: 'none', lineStyle: { color: '#000', width: 0.8 },
    markLine: { silent: true, symbol: 'none', label: { show: false },
      lineStyle: { color: '#7a7a7a', type: [4, 3], width: 0.8 }, data: [{ xAxis: 0 }] }
  });
  series.push({
    type: 'line', xAxisIndex: k, yAxisIndex: k, z: 4, silent: true,
    data: horizons.map(h => [redMedian[k][h], h]),
    symbol: STAR, symbolSize: 6, showSymbol: true, showAllSymbol: true,
    itemStyle: { color: 'rgba(0,0,0,0)', borderColor: '#000', borderWidth: 0.9 },
    lineStyle: { color: '#000', width: 0.8 }
  });
  graphics.push({
    type: 'text', x: left - 5.5, y: top + PH / 2, rotation: Math.PI / 2, silent: true,
    style: { text: name, font: '14px "Liberation Serif"', fill: '#000',
      align: 'center', verticalAlign: 'bottom', textAlign: 'center', textVerticalAlign: 'bottom' }
  });
});

const chart = echarts.init(document.getElementById('c'), null, { renderer: 'canvas' });
chart.setOption({
  animation: false,
  backgroundColor: '#fff',
  grid: grids, xAxis: xAxes, yAxis: yAxes, series: series, graphic: graphics
});
</script></body></html>
